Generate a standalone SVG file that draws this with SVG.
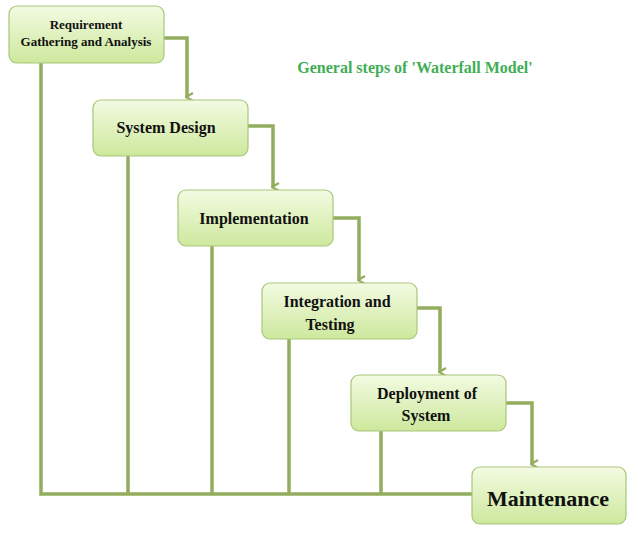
<svg xmlns="http://www.w3.org/2000/svg" width="638" height="537" viewBox="0 0 638 537">
<defs>
<linearGradient id="g" x1="0" y1="0" x2="0" y2="1"><stop offset="0" stop-color="#f3fbe2"/><stop offset="1" stop-color="#cde89d"/></linearGradient>
<marker id="a" markerWidth="10" markerHeight="10" refX="5" refY="8" orient="auto-start-reverse" markerUnits="userSpaceOnUse" viewBox="0 0 10 10"><path d="M1,2 L5,9 L9,2" fill="none" stroke="#93ad5e" stroke-width="2.2"/></marker>
</defs>
<style>
.b{fill:url(#g);stroke:#a9c67a;stroke-width:1.2}
.c{fill:none;stroke:#93ad5e;stroke-width:3.5}
.t{font-family:"Liberation Serif",serif;font-weight:bold;fill:#111;text-anchor:middle}
</style>
<rect width="638" height="537" fill="#fff"/>
<g id="connectors">
<path class="c" d="M164,38 H187 V97" marker-end="url(#a)"/>
<path class="c" d="M248,126 H273 V187" marker-end="url(#a)"/>
<path class="c" d="M333,218 H359 V280" marker-end="url(#a)"/>
<path class="c" d="M417,308 H440 V372" marker-end="url(#a)"/>
<path class="c" d="M506,403 H532 V464" marker-end="url(#a)"/>
<path class="c" d="M41,63 V494 H472 M128,156 V494 M212,246 V494 M289,339 V494 M381,431 V494"/>
</g>
<g id="n1"><rect class="b" x="9" y="6" width="155" height="57" rx="8"/><text class="t" x="86" y="29" font-size="13">Requirement</text><text class="t" x="86" y="46" font-size="13">Gathering and Analysis</text></g>
<g id="n2"><rect class="b" x="93" y="100" width="155" height="56" rx="8"/><text class="t" x="166" y="133" font-size="16">System Design</text></g>
<g id="n3"><rect class="b" x="178" y="190" width="155" height="56" rx="8"/><text class="t" x="254" y="224" font-size="16">Implementation</text></g>
<g id="n4"><rect class="b" x="262" y="283" width="155" height="56" rx="8"/><text class="t" x="337" y="307" font-size="16">Integration and</text><text class="t" x="330" y="330" font-size="16">Testing</text></g>
<g id="n5"><rect class="b" x="351" y="375" width="155" height="56" rx="8"/><text class="t" x="427" y="399" font-size="16">Deployment of</text><text class="t" x="426" y="421" font-size="16">System</text></g>
<g id="n6"><rect class="b" x="472" y="467" width="154" height="57" rx="8"/><text class="t" x="548" y="506" font-size="22">Maintenance</text></g>
<text x="415" y="73" font-family="Liberation Serif,serif" font-weight="bold" font-size="16" fill="#3fae55" text-anchor="middle">General steps of 'Waterfall Model'</text>
</svg>
